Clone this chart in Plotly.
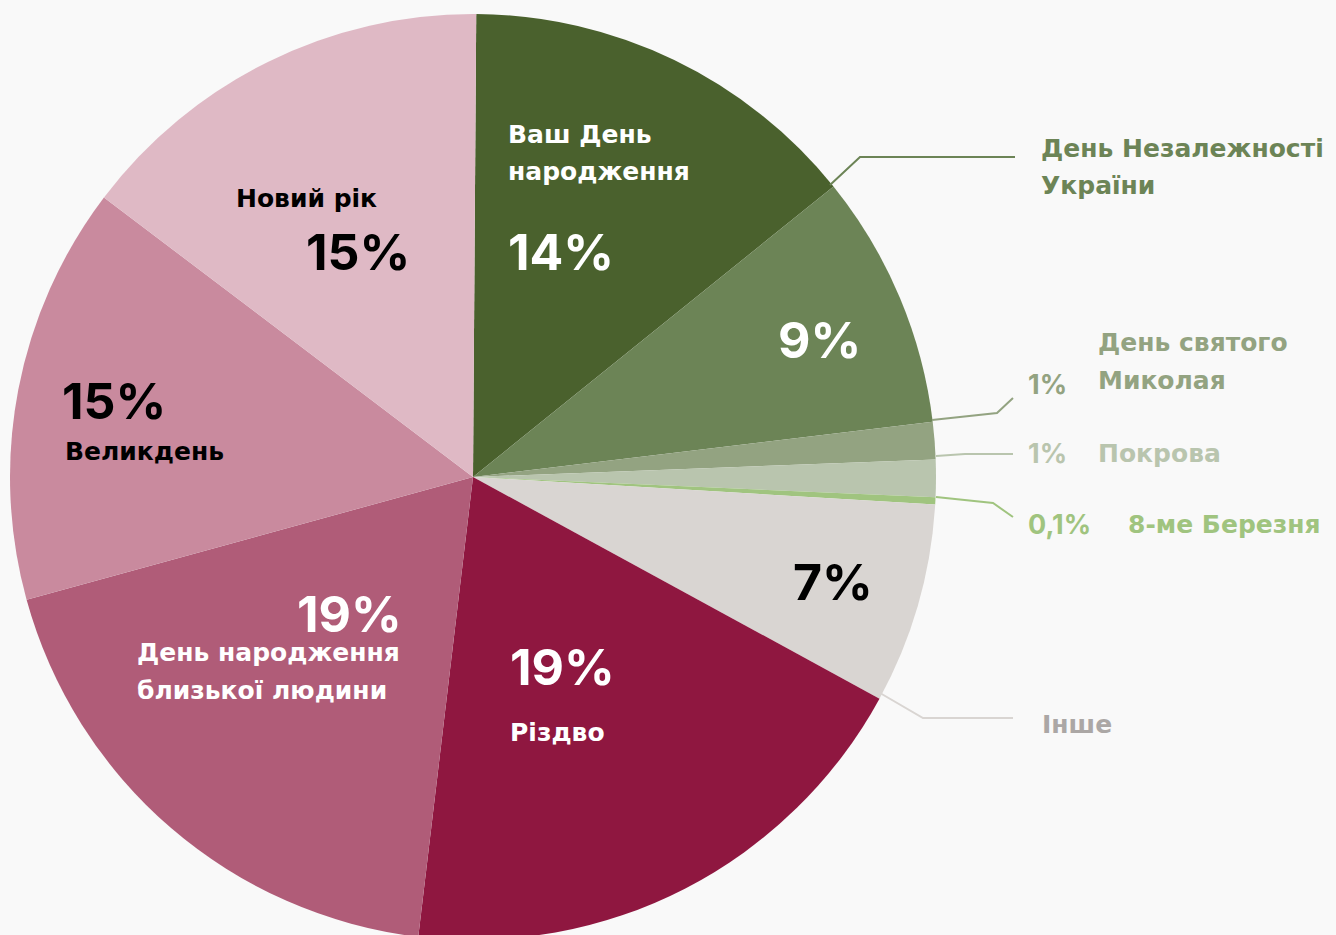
import plotly.graph_objects as go

categories = ["Ваш День народження", "День Незалежності України", "День святого Миколая",
              "Покрова", "8-ме Березня", "Інше", "Різдво",
              "День народження близької людини", "Великдень", "Новий рік"]
# shares (labels show the rounded figures)
values = [14.1, 8.9, 1.3, 1.3, 0.25, 7.0, 18.95, 18.85, 14.6, 14.8]
pct_labels = ["14%", "9%", "1%", "1%", "0,1%", "7%", "19%", "19%", "15%", "15%"]
colors = ["#4A612D", "#6C8456", "#93A381", "#B9C5AE", "#A0C47F", "#D9D5D2",
          "#8F1740", "#B05C78", "#C98A9E", "#DFB9C5"]

W, H = 1336, 945   # a bit taller than the window so the pie can run off the bottom edge
BG = "#F9F9F9"
PFONT = "Inter, Noto Sans, sans-serif"
NFONT = "DejaVu Sans, Inter, sans-serif"

fig = go.Figure(go.Pie(
    labels=categories, values=values, sort=False, direction="clockwise", rotation=0.4,
    marker=dict(colors=colors, line=dict(width=0)), textinfo="none", hoverinfo="label+percent",
    showlegend=False,
    domain=dict(x=[10 / W, 936 / W], y=[1 - 940 / H, 1 - 14 / H]),
))


def px(x, y):
    return x / W, 1 - y / H


def ann(text, x, y, size, color, pct=False, xanchor="left"):
    ax, ay = px(x, y)
    fig.add_annotation(x=ax, y=ay, xref="paper", yref="paper", text=text, showarrow=False,
                       xanchor=xanchor, yanchor="middle",
                       font=dict(family=PFONT if pct else NFONT, size=size, color=color,
                                 weight=700))


def leader(points, color):
    path = "M " + " L ".join(f"{p[0] / W},{1 - p[1] / H}" for p in points)
    fig.add_shape(type="path", path=path, xref="paper", yref="paper",
                  line=dict(color=color, width=2))


NAME = 25
PCT = 50
SMALLP = 27

# Inside labels
ann("Ваш День", 506, 135, NAME, "white")
ann("народження", 506, 172, NAME, "white")
ann(pct_labels[0], 506, 252, PCT, "white", True)

ann(pct_labels[1], 776, 340, PCT, "white", True)

ann(pct_labels[5], 791, 582, PCT, "black", True)

ann(pct_labels[6], 508, 667, PCT, "white", True)
ann("Різдво", 508, 732, NAME, "white")

ann(pct_labels[7], 404, 614, PCT, "white", True, xanchor="right")
ann("День народження", 135, 652, NAME, "white")
ann("близької людини", 135, 690, NAME, "white")

ann(pct_labels[8], 60, 401, PCT, "black", True)
ann("Великдень", 63, 452, NAME, "black")

ann("Новий рік", 234, 198, NAME, "black")
ann(pct_labels[9], 412, 252, PCT, "black", True, xanchor="right")

# Outside labels
ann("День Незалежності", 1039, 148, NAME, colors[1])
ann("України", 1039, 185, NAME, colors[1])
leader([(830, 185), (860, 157), (1015, 157)], colors[1])

ann(pct_labels[2], 1026, 384, SMALLP, colors[2], True)
ann("День святого", 1096, 343, NAME, colors[2])
ann("Миколая", 1096, 380, NAME, colors[2])
leader([(932, 420), (997, 413), (1013, 398)], colors[2])

ann(pct_labels[3], 1026, 453, SMALLP, colors[3], True)
ann("Покрова", 1096, 453, NAME, colors[3])
leader([(936, 456), (965, 454), (1013, 454)], colors[3])

ann(pct_labels[4], 1026, 524, SMALLP, colors[4], True)
ann("8-ме Березня", 1126, 524, NAME, colors[4])
leader([(936, 497), (993, 503), (1013, 517)], colors[4])

ann("Інше", 1040, 724, NAME, "#ABA7A5")
leader([(880, 693), (923, 718), (1013, 718)], colors[5])

fig.update_layout(width=W, height=H, margin=dict(l=0, r=0, t=0, b=0),
                  paper_bgcolor=BG, plot_bgcolor=BG)

fig.write_html("out.html", config={"displayModeBar": False}, post_script=(
    "document.body.style.margin='0';document.body.style.overflow='hidden';"
    f"document.body.style.background='{BG}';"))
